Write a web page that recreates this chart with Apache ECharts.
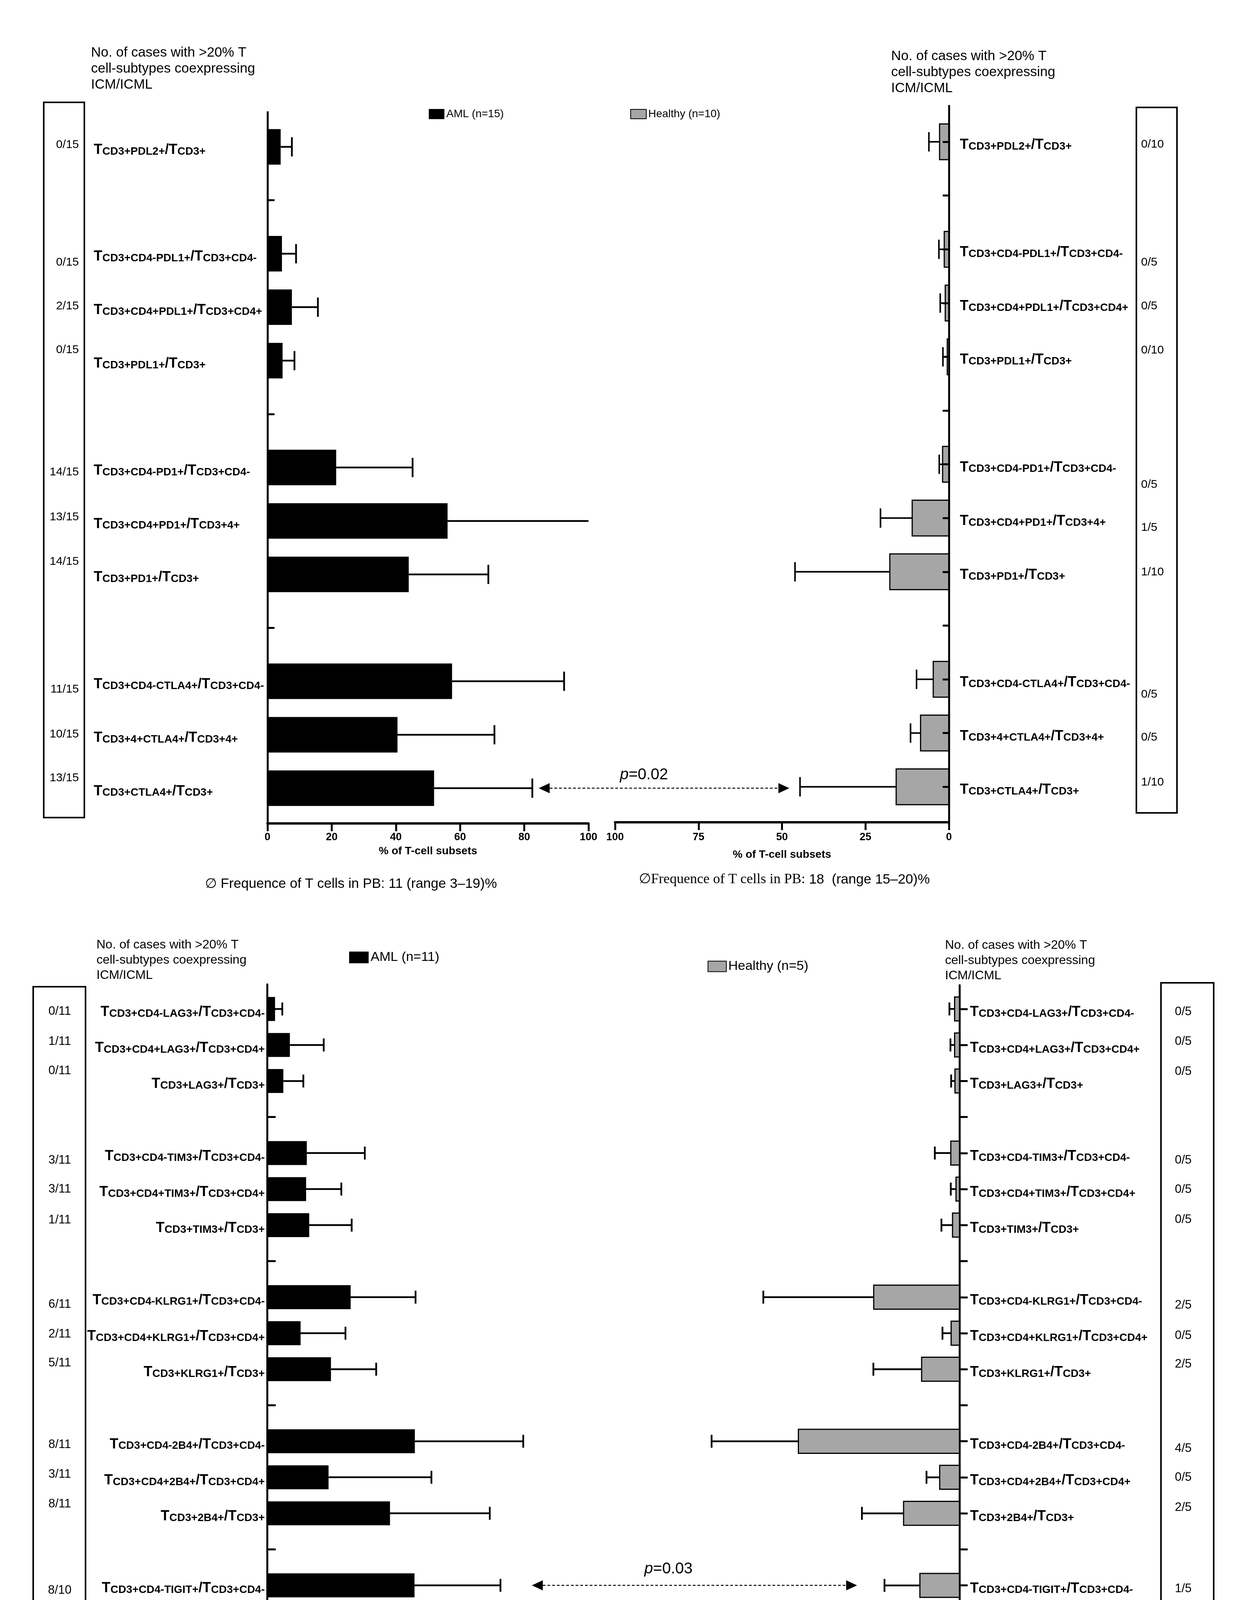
<!DOCTYPE html>
<html><head><meta charset="utf-8">
<script src="https://cdn.jsdelivr.net/npm/echarts@6/dist/echarts.min.js"></script>
<style>html,body{margin:0;padding:0;background:#fff}#c{width:3160px;height:4824px}</style>
</head><body><div id="c"></div>
<script>
// ================= DATA =================
// Row labels: T_{a}/T_{b}; null = empty separator slot
const topLabels = [
  ['CD3+PDL2+','CD3+'], null,
  ['CD3+CD4-PDL1+','CD3+CD4-'], ['CD3+CD4+PDL1+','CD3+CD4+'], ['CD3+PDL1+','CD3+'], null,
  ['CD3+CD4-PD1+','CD3+CD4-'], ['CD3+CD4+PD1+','CD3+4+'], ['CD3+PD1+','CD3+'], null,
  ['CD3+CD4-CTLA4+','CD3+CD4-'], ['CD3+4+CTLA4+','CD3+4+'], ['CD3+CTLA4+','CD3+']
];
const topAmlMean = [4.1, null, 4.5, 7.6, 4.7, null, 21.4, 56.1, 44.0, null, 57.5, 40.5, 51.9];
const topAmlSD   = [3.5, null, 4.4, 8.1, 3.7, null, 23.8, 46.0, 24.8, null, 34.9, 30.2, 30.6];
const topHealthyMean = [2.8, null, 1.4, 1.1, 0.5, null, 1.9, 11.0, 17.7, null, 4.7, 8.5, 15.8];
const topHealthySD   = [3.2, null, 1.6, 1.5, 1.3, null, 1.0, 9.5, 28.4, null, 5.0, 3.0, 28.8];
const topAmlCounts     = ['0/15', null, '0/15', '2/15', '0/15', null, '14/15', '13/15', '14/15', null, '11/15', '10/15', '13/15'];
const topHealthyCounts = ['0/10', null, '0/5', '0/5', '0/10', null, '0/5', '1/5', '1/10', null, '0/5', '0/5', '1/10'];

const bottomLabels = [
  ['CD3+CD4-LAG3+','CD3+CD4-'], ['CD3+CD4+LAG3+','CD3+CD4+'], ['CD3+LAG3+','CD3+'], null,
  ['CD3+CD4-TIM3+','CD3+CD4-'], ['CD3+CD4+TIM3+','CD3+CD4+'], ['CD3+TIM3+','CD3+'], null,
  ['CD3+CD4-KLRG1+','CD3+CD4-'], ['CD3+CD4+KLRG1+','CD3+CD4+'], ['CD3+KLRG1+','CD3+'], null,
  ['CD3+CD4-2B4+','CD3+CD4-'], ['CD3+CD4+2B4+','CD3+CD4+'], ['CD3+2B4+','CD3+'], null,
  ['CD3+CD4-TIGIT+','CD3+CD4-'], ['CD3+CD4+TIGIT+','CD3+CD4+'], ['CD3+TIGIT+','CD3+']
];
const bottomAmlMean = [2.3, 6.6, 4.7, null, 11.5, 11.3, 12.2, null, 24.2, 9.7, 18.5, null, 42.8, 17.8, 35.6, null, 42.7, 69.7, 49.7];
const bottomAmlSD   = [2.1, 9.8, 5.8, null, 16.8, 10.2, 12.3, null, 18.8, 13.0, 13.1, null, 31.4, 29.8, 28.9, null, 24.9, 32.0, 26.4];
const bottomHealthyMean = [1.4, 1.4, 1.3, null, 2.5, 1.0, 2.0, null, 24.7, 2.4, 10.9, null, 46.4, 5.7, 16.1, null, 11.4, 31.1, 19.7];
const bottomHealthySD   = [1.5, 1.2, 1.1, null, 4.6, 1.5, 3.2, null, 31.8, 2.5, 13.9, null, 25.0, 3.8, 12.0, null, 10.2, 45.2, 24.2];
const bottomAmlCounts     = ['0/11','1/11','0/11',null,'3/11','3/11','1/11',null,'6/11','2/11','5/11',null,'8/11','3/11','8/11',null,'8/10','9/10','8/10'];
const bottomHealthyCounts = ['0/5','0/5','0/5',null,'0/5','0/5','0/5',null,'2/5','0/5','2/5',null,'4/5','0/5','2/5',null,'1/5','1/5','1/4'];

const xTicksTopLeft = 20, xTicksTopRight = 25, xTicksBottom = 20;
const seriesNames = ['AML (n=15)', 'Healthy (n=10)', 'AML (n=11)', 'Healthy (n=5)'];
const headerText = 'No. of cases with >20% T\ncell-subtypes coexpressing\nICM/ICML';
const axisName = '% of T-cell subsets';
const freqAml = '\u2205 Frequence of T cells in PB: 11 (range 3\u201319)%';
const freqHealthyA = '\u2205Frequence of T cells in PB:';
const freqHealthyB = '18  (range 15\u201320)%';
// p-value annotations: [text, row, AML-axis value, Healthy-axis value]
const pTop = ['0.02', 12, 84.5, 47.8];
const pBottom = ['0.03', 16, 76.7, 29.5];

// ================= LAYOUT (positions/styles only) =================
const topLeftNudge  = [-0.04,0,0.16,-0.02,-0.2,0,0.09,-0.07,-0.24,0,0.15,-0.01,-0.19];
const topRightNudge = [0.05,0,0.24,0.06,-0.12,0,0.38,0.18,0.01,0,0.28,0.08,-0.08];
const botLeftNudge  = [.07,-.09,-.28,0,.2,0,-.14,0,.2,.03,-.17,0,.1,-.08,-.26,0,.14,-.03,-.18];
const botRightNudge = [.08,-.09,-.26,0,.2,.01,-.15,0,.22,.07,-.14,0,.2,.01,-.16,0,.1,-.08,-.23];

const FF = "'Liberation Sans', Arial, Helvetica, sans-serif";
const SERIF = "'Liberation Serif', 'Times New Roman', serif";
const BAR_RATIO = 0.665, CAP_RATIO = 0.36;
const GRAY = '#a6a6a6';

const RICH = {
  b: {fontSize: 36, fontWeight: 'bold', fontFamily: FF, color: '#000', lineHeight: 10, verticalAlign: 'top'},
  s: {fontSize: 28, fontWeight: 'bold', fontFamily: FF, color: '#000', lineHeight: 36, verticalAlign: 'bottom'}
};
function fmtLabel(p) { return p ? '{b|T}{s|' + p[0] + '}{b|/T}{s|' + p[1] + '}' : ''; }

function rows(mean, sd) {
  const out = [];
  mean.forEach((m, i) => { if (m != null) out.push([i, m, sd[i]]); });
  return out;
}

function makeRender(st) {
  return function (params, api) {
    const row = api.value(0), mean = api.value(1), sd = api.value(2);
    const band = Math.abs(api.size([0, 1])[1]);
    const base = api.coord([0, row]);
    const end = api.coord([mean, row]);
    const errVal = Math.min(mean + sd, 100);
    const ep = api.coord([errVal, row]);
    const h = band * BAR_RATIO, cap = band * CAP_RATIO;
    const ch = [{type: 'line', shape: {x1: end[0], y1: end[1], x2: ep[0], y2: ep[1]},
                 style: {stroke: '#000', lineWidth: st.errWidth}}];
    if (mean + sd <= 100) {
      ch.push({type: 'line', shape: {x1: ep[0], y1: ep[1] - cap / 2, x2: ep[0], y2: ep[1] + cap / 2},
               style: {stroke: '#000', lineWidth: st.errWidth}});
    }
    ch.push({type: 'rect', shape: {x: Math.min(base[0], end[0]), y: base[1] - h / 2,
             width: Math.abs(end[0] - base[0]), height: h},
             style: {fill: st.fill, stroke: st.stroke, lineWidth: st.borderWidth}});
    return {type: 'group', children: ch};
  };
}

function makeYAxis(gridIndex, labels, range, o) {
  const all = labels.map((_, i) => i);
  const named = all.filter(i => labels[i]);
  return {
    type: 'value', gridIndex, inverse: true, min: range[0], max: range[1],
    position: o.position, z: o.z || 0,
    splitLine: {show: false},
    axisLine: {show: true, onZero: false, lineStyle: {color: '#000', width: 5}},
    axisTick: {show: true, inside: o.tickInside, length: o.tickLen, customValues: all,
               lineStyle: {color: '#000', width: 5}},
    axisLabel: {show: true, customValues: named, margin: o.margin, align: o.align,
                padding: [16, 0, 0, 0], formatter: v => fmtLabel(labels[Math.round(v)]), rich: RICH}
  };
}

function makeXAxis(gridIndex, inverse, interval, o) {
  return {
    type: 'value', gridIndex, inverse, min: 0, max: 100, interval,
    name: axisName, nameLocation: 'middle', nameGap: o.nameGap,
    nameTextStyle: {fontFamily: FF, fontWeight: 'bold', fontSize: o.nameSize, color: '#000'},
    splitLine: {show: false},
    axisLine: {show: true, onZero: false, lineStyle: {color: '#000', width: 6}},
    axisTick: {show: true, length: 20, lineStyle: {color: '#000', width: 5}},
    axisLabel: {margin: o.margin, fontFamily: FF, fontWeight: 'bold', fontSize: o.labelSize,
                color: '#000', alignMaxLabel: o.alignMax || null}
  };
}

function legendCfg(name, fill, left, top, w, h, fs) {
  return {
    data: [{name, icon: 'rect', itemStyle: {color: fill, borderColor: '#000', borderWidth: fill === '#000' ? 0 : 2}}],
    left, top, itemWidth: w, itemHeight: h, padding: 0, selectedMode: false,
    textStyle: {fontFamily: FF, fontSize: fs, color: '#000'}
  };
}

const chart = echarts.init(document.getElementById('c'), null, {renderer: 'canvas'});

const option = {
  animation: false,
  backgroundColor: '#fff',
  grid: [
    {left: 685, top: 287, width: 822, height: 1821},
    {left: 1575, top: 271, width: 855, height: 1834},
    {left: 684, top: 2520, width: 884, height: 1782},
    {left: 1568, top: 2522, width: 889, height: 1782}
  ],
  xAxis: [
    makeXAxis(0, false, xTicksTopLeft, {nameGap: 57, nameSize: 28, margin: 22, labelSize: 27}),
    makeXAxis(1, true, xTicksTopRight, {nameGap: 69, nameSize: 28, margin: 25, labelSize: 27}),
    makeXAxis(2, false, xTicksBottom, {nameGap: 77, nameSize: 34, margin: 34, labelSize: 31, alignMax: 'right'}),
    makeXAxis(3, true, xTicksBottom, {nameGap: 80, nameSize: 34, margin: 34, labelSize: 31, alignMax: 'left'})
  ],
  yAxis: [
    makeYAxis(0, topLabels, [-0.65, 12.66], {position: 'left', tickInside: true, tickLen: 18, margin: 445, align: 'left'}),
    makeYAxis(1, topLabels, [-0.669, 12.66], {position: 'right', tickInside: true, tickLen: 16, margin: 28, align: 'left', z: 5}),
    makeYAxis(2, bottomLabels, [-0.683, 18.64], {position: 'left', tickInside: true, tickLen: 22, margin: 6, align: 'right'}),
    makeYAxis(3, bottomLabels, [-0.66, 18.66], {position: 'right', tickInside: false, tickLen: 21, margin: 27, align: 'left'})
  ],
  legend: [
    legendCfg(seriesNames[0], '#000', 1098, 278, 40, 26, 28),
    legendCfg(seriesNames[1], GRAY, 1614, 278, 40, 24, 28),
    legendCfg(seriesNames[2], '#000', 894, 2434, 50, 30, 34),
    legendCfg(seriesNames[3], GRAY, 1812, 2457, 47, 27, 34)
  ],
  series: [
    {type: 'custom', name: seriesNames[0], xAxisIndex: 0, yAxisIndex: 0, encode: {x: 1, y: 0},
     itemStyle: {color: '#000'}, data: rows(topAmlMean, topAmlSD),
     renderItem: makeRender({fill: '#000', stroke: null, borderWidth: 0, errWidth: 4.5})},
    {type: 'custom', name: seriesNames[1], xAxisIndex: 1, yAxisIndex: 1, encode: {x: 1, y: 0},
     itemStyle: {color: GRAY}, data: rows(topHealthyMean, topHealthySD),
     renderItem: makeRender({fill: GRAY, stroke: '#000', borderWidth: 3, errWidth: 4})},
    {type: 'custom', name: seriesNames[2], xAxisIndex: 2, yAxisIndex: 2, encode: {x: 1, y: 0},
     itemStyle: {color: '#000'}, data: rows(bottomAmlMean, bottomAmlSD),
     renderItem: makeRender({fill: '#000', stroke: null, borderWidth: 0, errWidth: 4.5})},
    {type: 'custom', name: seriesNames[3], xAxisIndex: 3, yAxisIndex: 3, encode: {x: 1, y: 0},
     itemStyle: {color: GRAY}, data: rows(bottomHealthyMean, bottomHealthySD),
     renderItem: makeRender({fill: GRAY, stroke: '#000', borderWidth: 3, errWidth: 4.5})}
  ]
};
chart.setOption(option);

// ================= ANNOTATIONS (placed through the axes) =================
function txt(x, y, text, fs, align, extra) {
  return Object.assign({type: 'text', x, y, silent: true, z: 100,
    style: Object.assign({text, fontSize: fs, fontFamily: FF, fill: '#000',
      align: align, textAlign: align, verticalAlign: 'middle', textVerticalAlign: 'middle'}, extra || {})});
}
function box(x, y, w, h) {
  return {type: 'rect', silent: true, z: 100, shape: {x, y, width: w, height: h},
          style: {fill: 'none', stroke: '#000', lineWidth: 4}};
}
function counts(list, nudge, yAxisIndex, x, align, fs) {
  const out = [];
  list.forEach((c, i) => {
    if (c == null) return;
    const y = chart.convertToPixel({yAxisIndex}, i + nudge[i]);
    out.push(txt(x, y, c, fs, align));
  });
  return out;
}
function pArrow(p, gL, gR, dy) {
  const a = chart.convertToPixel({gridIndex: gL}, [p[2], p[1]]);
  const b = chart.convertToPixel({gridIndex: gR}, [p[3], p[1]]);
  const y = a[1], x1 = a[0], x2 = b[0], L = 28, H = 13;
  return [
    {type: 'line', silent: true, z: 100, shape: {x1: x1 + L, y1: y, x2: x2 - L, y2: y},
     style: {stroke: '#000', lineWidth: 2.5, lineDash: [7, 5]}},
    {type: 'polygon', silent: true, z: 100, shape: {points: [[x1, y], [x1 + L, y - H], [x1 + L, y + H]]}, style: {fill: '#000'}},
    {type: 'polygon', silent: true, z: 100, shape: {points: [[x2, y], [x2 - L, y - H], [x2 - L, y + H]]}, style: {fill: '#000'}},
    txt(x1 + 0.42 * (x2 - x1), y - dy, '{i|p}{n|=' + p[0] + '}', 40, 'center', {
      rich: {i: {fontStyle: 'italic', fontSize: 40, fontFamily: FF, fill: '#000'},
             n: {fontSize: 40, fontFamily: FF, fill: '#000'}}})
  ];
}
function header(x, yTop, fs, lh) {
  return {type: 'text', x, y: yTop, silent: true, z: 100,
    style: {text: headerText, fontSize: fs, fontFamily: FF, fill: '#000', lineHeight: lh,
            align: 'left', textAlign: 'left', verticalAlign: 'top', textVerticalAlign: 'top'}};
}
function freqHealthy(x, y, fsSerif, fsSans) {
  return txt(x, y, '{a|' + freqHealthyA + '} {b|' + freqHealthyB + '}', fsSans, 'left', {
    rich: {a: {fontFamily: SERIF, fontSize: fsSerif, fill: '#000'},
           b: {fontFamily: FF, fontSize: fsSans, fill: '#000'}}});
}

const g = [];
g.push(box(112, 262, 104, 1831), box(2910, 275, 104, 1806), box(85, 2526, 134, 1806), box(2973, 2516, 135, 1804));
g.push(header(233, 115, 35, 41), header(2282, 124, 35, 41), header(247, 2400, 32, 39), header(2420, 2401, 32, 39));
g.push(...counts(topAmlCounts, topLeftNudge, 0, 202, 'right', 30));
g.push(...counts(topHealthyCounts, topRightNudge, 1, 2922, 'left', 30));
g.push(...counts(bottomAmlCounts, botLeftNudge, 2, 153, 'center', 31));
g.push(...counts(bottomHealthyCounts, botRightNudge, 3, 3030, 'center', 31));
g.push(...pArrow(pTop, 0, 1, 34), ...pArrow(pBottom, 2, 3, 42));
g.push(txt(899, 2263, freqAml, 35, 'center'), freqHealthy(1636, 2252, 36, 35));
g.push(txt(887, 4451, freqAml, 32, 'center'), freqHealthy(1693, 4455, 33, 32));
g.push(txt(1600, 4768, '{p|(}{b|B}{p|)}', 62, 'center', {
  rich: {p: {fontFamily: SERIF, fontSize: 62, fill: '#000'},
         b: {fontFamily: SERIF, fontSize: 62, fontWeight: 'bold', fill: '#000'}}}));

chart.setOption({graphic: {elements: g}});
</script>
</body></html>
